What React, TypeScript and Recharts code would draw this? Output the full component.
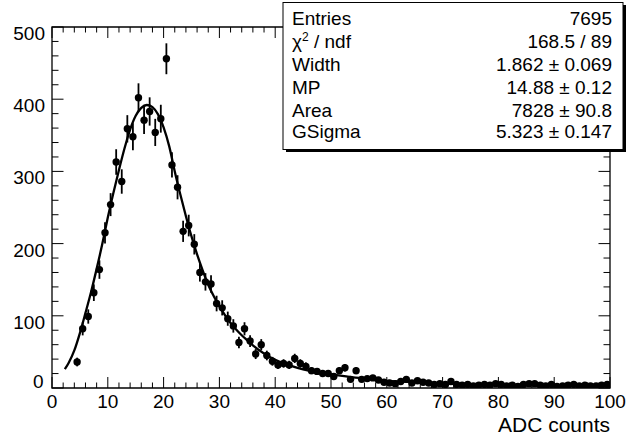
import { ComposedChart, Scatter, Line, XAxis, YAxis, ErrorBar, ReferenceArea } from 'recharts';

// histogram: ADC counts, bins of width 1, first filled bin starts at 4
const firstBin = 4;
const counts = [
  36, 82, 99, 132, 164, 215, 254, 313, 286, 359,
  348, 402, 371, 383, 354, 373, 456, 309, 278, 217,
  225, 199, 160, 147, 144, 117, 111, 96, 86, 63,
  82, 65, 47, 60, 45, 37, 32, 34, 32, 41,
  34, 30, 24, 23, 20, 20, 16, 24, 28, 12,
  24, 12, 13, 14, 11, 8, 7, 6, 9, 12,
  7, 10, 8, 7, 5, 6, 5, 9, 5, 4,
  5, 3, 4, 5, 4, 6, 5, 3, 4, 2,
  5, 6, 6, 4, 3, 5, 2, 3, 4, 5,
  3, 4, 3, 3, 4, 5,
];
const errors = [
  6.0, 9.1, 9.9, 11.5, 12.8, 14.7, 15.9, 17.7, 16.9, 18.9,
  18.7, 20.0, 19.3, 19.6, 18.8, 19.3, 21.4, 17.6, 16.7, 14.7,
  15.0, 14.1, 12.6, 12.1, 12.0, 10.8, 10.5, 9.8, 9.3, 7.9,
  9.1, 8.1, 6.9, 7.7, 6.7, 6.1, 5.7, 5.8, 5.7, 6.4,
  5.8, 5.5, 4.9, 4.8, 4.5, 4.5, 4.0, 4.9, 5.3, 3.5,
  4.9, 3.5, 3.6, 3.7, 3.3, 2.8, 2.6, 2.4, 3.0, 3.5,
  2.6, 3.2, 2.8, 2.6, 2.2, 2.4, 2.2, 3.0, 2.2, 2.0,
  2.2, 1.7, 2.0, 2.2, 2.0, 2.4, 2.2, 1.7, 2.0, 1.4,
  2.2, 2.4, 2.4, 2.0, 1.7, 2.2, 1.4, 1.7, 2.0, 2.2,
  1.7, 2.0, 1.7, 1.7, 2.0, 2.2,
];

// Landau (x) Gauss fit
const fitX = [
  2.3, 3, 4, 5, 6, 7, 8, 9, 10, 11, 12, 13, 14, 15, 16, 17, 18, 19, 20, 21,
  22, 23, 24, 25, 26, 27, 28, 29, 30, 31, 32, 33, 34, 35, 36, 37, 38, 39, 40,
  42, 44, 46, 48, 50, 55, 60, 65, 70, 75, 80, 85, 90, 95, 100,
];
const fitY = [
  26, 35, 52, 76, 104, 133, 165, 199, 236, 270, 302, 332, 358, 377, 388, 392, 389, 379, 361, 335,
  300, 268, 238, 210, 185, 163, 143, 127, 113, 101, 90, 81, 73, 66, 59, 53, 48, 43, 39,
  33, 28, 24, 21, 19, 14, 10, 8, 6.5, 5.5, 4.5, 4, 3.5, 3, 2.8,
];

const xTicks = [
  0, 2, 4, 6, 8, 10, 12, 14, 16, 18, 20, 22, 24, 26, 28, 30, 32, 34, 36, 38, 40,
  42, 44, 46, 48, 50, 52, 54, 56, 58, 60, 62, 64, 66, 68, 70, 72, 74, 76, 78, 80,
  82, 84, 86, 88, 90, 92, 94, 96, 98, 100,
];
const yTicks = [
  0, 20, 40, 60, 80, 100, 120, 140, 160, 180, 200, 220, 240, 260, 280, 300,
  320, 340, 360, 380, 400, 420, 440, 460, 480, 500,
];

const statLabels = ['Entries', 'χ2 / ndf', 'Width', 'MP', 'Area', 'GSigma'];
const statValues = ['7695', '168.5 / 89', '1.862 ± 0.069', '14.88 ± 0.12', '7828 ± 90.8', '5.323 ± 0.147'];

const W = 626;
const H = 437;
const PLOT_W = 558;
const PLOT_H = 361;
const FONT = '"Liberation Sans", Arial, Helvetica, sans-serif';

const points = counts.map((c, i) => ({ x: firstBin + i + 0.5, y: c, err: errors[i] }));
const curve = fitX.map((x, i) => ({ x, y: fitY[i] }));

const XTick = ({ x, y, payload }: any) => {
  const v = payload.value;
  const major = v % 10 === 0;
  const len = major ? 11 : 5.5;
  return (
    <g>
      <line x1={x} y1={y} x2={x} y2={y - len} stroke="#000" />
      <line x1={x} y1={y - PLOT_H} x2={x} y2={y - PLOT_H + len} stroke="#000" />
      {major && (
        <text x={x} y={y + 20} textAnchor="middle" fontSize={19} fontFamily={FONT} fill="#000">
          {v}
        </text>
      )}
    </g>
  );
};

const YTick = ({ x, y, payload }: any) => {
  const v = payload.value;
  const major = v % 100 === 0;
  const len = major ? 11.5 : 6.5;
  return (
    <g>
      <line x1={x} y1={y} x2={x + len} y2={y} stroke="#000" />
      <line x1={x + PLOT_W} y1={y} x2={x + PLOT_W - len} y2={y} stroke="#000" />
      {major && (
        <text
          x={v === 0 ? x - 8.5 : x - 7}
          y={v === 0 ? y : y + 13}
          textAnchor="end"
          fontSize={19}
          fontFamily={FONT}
          fill="#000"
        >
          {v}
        </text>
      )}
    </g>
  );
};

const Dot = (props: any) => <circle cx={props.cx} cy={props.cy} r={3.7} fill="#000" />;

const statBaselines = [25, 47.5, 71, 94, 116.5, 138];

export default function App() {
  return (
    <div style={{ position: 'absolute', left: 0, top: 0, width: W, height: H, background: '#fff' }}>
      <ComposedChart width={W} height={H} margin={{ top: 27, right: 16, bottom: 0, left: 0 }}>
        <XAxis
          type="number"
          dataKey="x"
          domain={[0, 100]}
          ticks={xTicks}
          interval={0}
          height={49}
          axisLine={false}
          tickLine={false}
          tickSize={0}
          tickMargin={0}
          tick={<XTick />}
          allowDataOverflow
        />
        <YAxis
          type="number"
          dataKey="y"
          domain={[0, 500]}
          ticks={yTicks}
          interval={0}
          width={52}
          axisLine={false}
          tickLine={false}
          tickSize={0}
          tickMargin={0}
          tick={<YTick />}
          allowDataOverflow
        />
        <ReferenceArea x1={0} x2={100} y1={0} y2={500} fill="none" stroke="#000" strokeWidth={1.3} />
        <Line
          data={curve}
          dataKey="y"
          type="monotone"
          stroke="#000"
          strokeWidth={2.3}
          dot={false}
          isAnimationActive={false}
        />
        <Scatter data={points} dataKey="y" shape={<Dot />} isAnimationActive={false}>
          <ErrorBar dataKey="err" direction="y" width={0} stroke="#000" strokeWidth={1.8} />
        </Scatter>
      </ComposedChart>

      <svg
        width={W}
        height={H}
        style={{ position: 'absolute', left: 0, top: 0, pointerEvents: 'none' }}
        fontFamily={FONT}
      >
        {/* stats box with shadow */}
        <rect x={286} y={149} width={340} height={3} fill="#000" />
        <rect x={623} y={5} width={3} height={147} fill="#000" />
        <rect x={283} y={2.5} width={340} height={147} fill="#fff" stroke="#000" strokeWidth={1} />
        {statLabels.map((label, i) => (
          <g key={label}>
            <text x={292} y={statBaselines[i]} fontSize={19} fill="#000">
              {label === 'χ2 / ndf' ? (
                <>
                  <tspan>χ</tspan>
                  <tspan dy={-7} fontSize={12}>2</tspan>
                  <tspan dy={7}> / ndf</tspan>
                </>
              ) : (
                label
              )}
            </text>
            <text x={612} y={statBaselines[i]} fontSize={19} textAnchor="end" fill="#000">
              {statValues[i]}
            </text>
          </g>
        ))}
        <text x={610} y={432} fontSize={21} textAnchor="end" fill="#000">
          ADC counts
        </text>
      </svg>
    </div>
  );
}
